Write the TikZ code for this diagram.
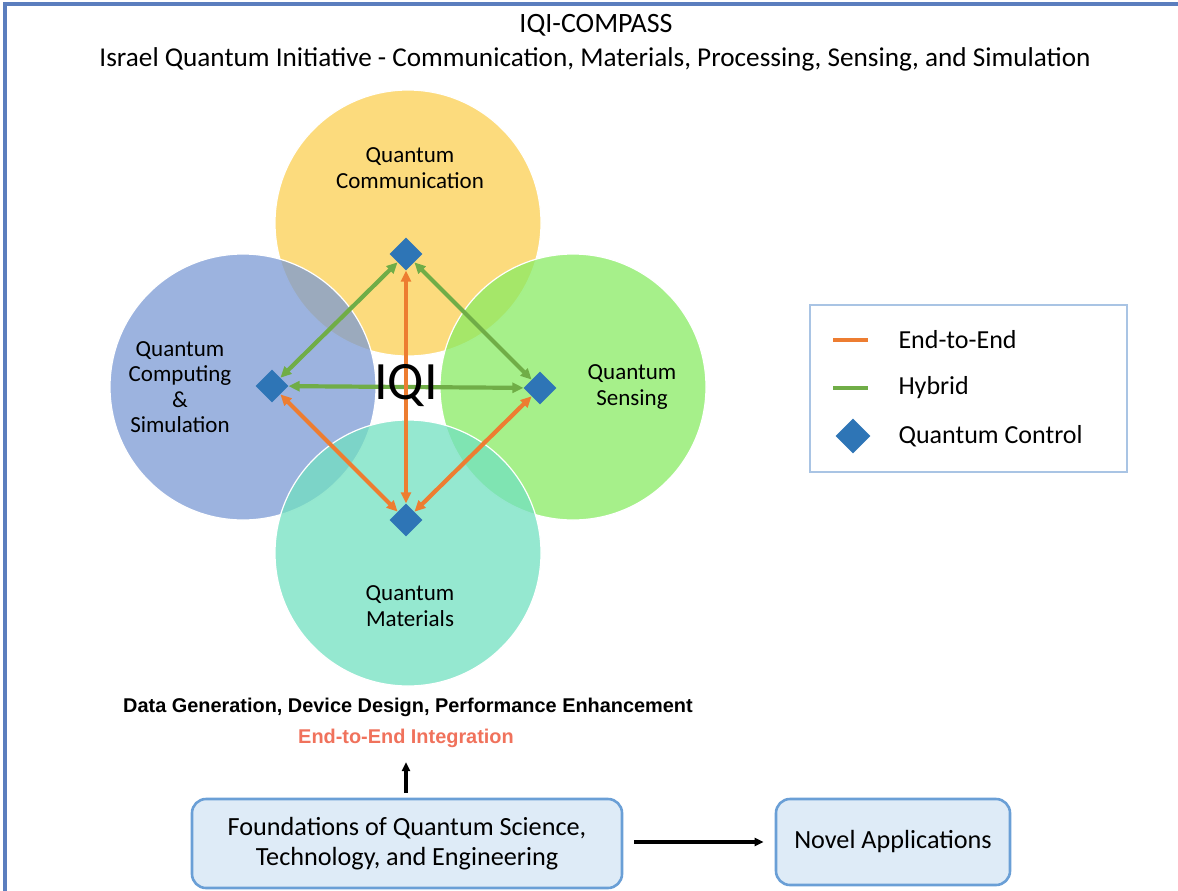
\documentclass[tikz,border=0pt]{standalone}
\usepackage{fontspec}
\setmainfont{Carlito}
\newfontfamily\arialfont{Liberation Sans}
\usetikzlibrary{arrows.meta,shapes.geometric}
\definecolor{framecol}{HTML}{5B7EBE}
\definecolor{commcol}{HTML}{FBCF52}
\definecolor{compcol}{HTML}{7B9AD4}
\definecolor{senscol}{HTML}{88EB63}
\definecolor{matcol}{HTML}{72E0C0}
\definecolor{ctrlblue}{HTML}{2E75B6}
\definecolor{e2eorange}{HTML}{ED7D31}
\definecolor{hybgreen}{HTML}{70AD47}
\definecolor{legendcol}{HTML}{A9C4E4}
\definecolor{panelfill}{HTML}{DEEBF7}
\definecolor{panelline}{HTML}{6A9FD6}
\definecolor{intcol}{HTML}{F0725C}
\newcommand{\fsz}[2]{\fontsize{#1}{#2}\selectfont}

\begin{document}
\begin{tikzpicture}[x=1pt,y=-1pt,
  field/.style={draw=white,line width=1.2pt,fill opacity=0.75},
  fieldtext/.style={align=center,font=\fsz{23}{25.5}},
  ctrl/.style={diamond,fill=ctrlblue,inner sep=0pt,minimum size=33pt},
  e2e/.style={draw=e2eorange,line width=4.2pt,{Triangle[length=11pt,width=10pt]}-{Triangle[length=11pt,width=10pt]}},
  hyb/.style={draw=hybgreen,line width=4.2pt,{Triangle[length=11pt,width=10pt]}-{Triangle[length=11pt,width=10pt]}},
  panel/.style={draw=panelline,fill=panelfill,line width=2.6pt,rounded corners=14pt,align=center,font=\fsz{26.2}{30}},
  keytext/.style={anchor=west,font=\fsz{26}{28}}]
\useasboundingbox (0,0) rectangle (1178,891);
\draw[framecol,line width=3.2pt] (5,891) -- (5,4) -- (1178,4);

\node (title) at (596,25) {\fsz{28}{30}IQI-COMPASS};
\node (subtitle) at (595,59) {\fsz{27.2}{30}Israel Quantum Initiative - Communication, Materials, Processing, Sensing, and Simulation};

\filldraw[field,fill=commcol] (408,223) circle (133pt);
\filldraw[field,fill=compcol] (243,387) circle (133pt);
\filldraw[field,fill=senscol] (573,387) circle (133pt);
\filldraw[field,fill=matcol] (408,553) circle (133pt);

\node[fieldtext] (commtext) at (410,168) {Quantum\\Communication};
\node[fieldtext] (comptext) at (180,387) {Quantum\\Computing\\\&\\Simulation};
\node[fieldtext] (senstext) at (632,387) {Quantum\\Sensing};
\node[fieldtext] (mattext) at (410,606) {Quantum\\Materials};

\node[ctrl] (comm) at (406,254) {};
\node[ctrl] (comp) at (272,386) {};
\node[ctrl] (sens) at (540,388) {};
\node[ctrl] (mat) at (406,520) {};

\draw[hyb] (comm) -- (comp);
\draw[hyb] (comm) -- (sens);
\draw[hyb] (comp) -- (sens);
\draw[e2e] (comm) -- (mat);
\draw[e2e] (comp) -- (mat);
\draw[e2e] (sens) -- (mat);

\node (iqi) at (406,386) {\fsz{54}{60}IQI};

\draw[legendcol,line width=2.6pt] (810,305) rectangle (1127,472);
\foreach \c/\t/\y in {e2eorange/End-to-End/340, hybgreen/Hybrid/388} {
  \draw[\c,line width=4.2pt] (833,\y) -- (868,\y);
  \node[keytext] (key\y) at (895,\y) {\t};
}
\node[ctrl,minimum size=35pt] (keyctrl) at (853,436) {};
\node[keytext] (keyctrltext) at (895,436) {Quantum Control};

\node (outcome) at (408,707) {\arialfont\bfseries\fsz{19.9}{22}Data Generation, Device Design, Performance Enhancement};
\node[text=intcol] (integration) at (406,738) {\arialfont\bfseries\fsz{19.9}{22}End-to-End Integration};

\node[panel,minimum width=430pt,minimum height=89pt] (found) at (407,843.5) {Foundations of Quantum Science,\\Technology, and Engineering};
\node[panel,minimum width=234pt,minimum height=86pt] (novel) at (893,842) {Novel Applications};

\coordinate (uptip) at (406,762);
\draw[-{Triangle[length=9pt,width=8pt]},line width=3.4pt] (406,793) -- (uptip);
\draw[-{Triangle[length=9pt,width=8pt]},line width=3.4pt,shorten <=11pt,shorten >=11pt] (found.east |- novel) -- (novel.west);
\end{tikzpicture}
\end{document}
